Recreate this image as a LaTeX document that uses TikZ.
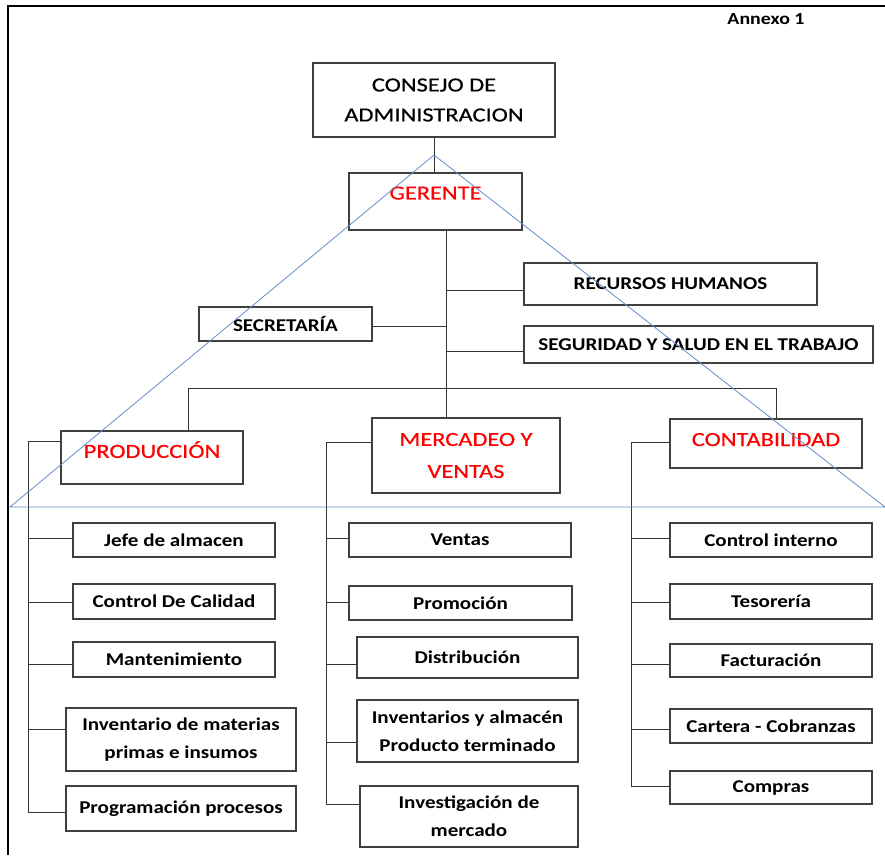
\documentclass[tikz,border=0pt]{standalone}
\usepackage{fontspec}
\setmainfont{Carlito}
\newfontfamily\headfont[FakeStretch=1.22,FakeBold=0.5]{Carlito}
\newfontfamily\boxfont[FakeStretch=1.17]{Carlito}
\usetikzlibrary{calc}
\definecolor{triBlue}{RGB}{100,140,200}
\definecolor{headRed}{RGB}{255,0,0}

\begin{document}
\begin{tikzpicture}[x=1pt, y=-1pt,
    box/.style={draw=black!75, line width=1.1pt, inner sep=2pt, align=center},
    head/.style={box, font=\headfont\fontsize{20}{30}\selectfont},
    area/.style={head, text=headRed},
    staff/.style={box, font=\boxfont\bfseries\fontsize{18}{20}\selectfont},
    unit/.style={box, font=\boxfont\bfseries\fontsize{18}{28}\selectfont},
    link/.style={draw=black!80, line width=0.9pt},
    tri/.style={draw=triBlue, line width=0.8pt}
  ]
  \useasboundingbox (0,0) rectangle (885,855);
  % page frame
  \draw[line width=2.5pt] (885,6) -- (8,6) -- (8,855);
  \node[font=\boxfont\bfseries\fontsize{17}{19}\selectfont] (annexo) at (766,19) {Annexo 1};

  % direction
  \node[head, minimum width=242, minimum height=74] (consejo) at (434,100) {CONSEJO DE\\ADMINISTRACION};
  \node[area, minimum width=173, minimum height=57, text depth=17] (gerente) at (435.5,201.5) {GERENTE};
  \node[staff, minimum width=293, minimum height=42] (rrhh) at (670.5,284) {RECURSOS HUMANOS};
  \node[staff, minimum width=173, minimum height=34] (secre) at (285.5,324) {SECRETARÍA};
  \node[staff, minimum width=349, minimum height=37] (sst) at (698.5,344.5) {SEGURIDAD Y SALUD EN EL TRABAJO};

  % areas
  \node[area, minimum width=182, minimum height=53, text depth=16] (prod) at (152,457.5) {PRODUCCIÓN};
  \node[area, minimum width=188, minimum height=75] (merc) at (466,455.5) {MERCADEO Y\\[2pt]VENTAS};
  \node[area, minimum width=192, minimum height=49, text depth=8] (conta) at (766,443.5) {CONTABILIDAD};

  % produccion
  \node[unit, minimum width=202, minimum height=34] (jefe) at (174,540) {Jefe de almacen};
  \node[unit, minimum width=202, minimum height=35] (calidad) at (174,601.5) {Control De Calidad};
  \node[unit, minimum width=202, minimum height=35] (mant) at (174,659.5) {Mantenimiento};
  \node[unit, minimum width=230, minimum height=63] (invmat) at (181,739.5) {Inventario de materias\\primas e insumos};
  \node[unit, minimum width=230, minimum height=45] (prog) at (181,808.5) {Programación procesos};

  % mercadeo y ventas
  \node[unit, minimum width=222, minimum height=34] (ventas) at (460,540) {Ventas};
  \node[unit, minimum width=223, minimum height=34] (promo) at (460.5,603) {Promoción};
  \node[unit, minimum width=221, minimum height=41] (distrib) at (467.5,657.5) {Distribución};
  \node[unit, minimum width=221, minimum height=62] (invalm) at (467.5,731) {Inventarios y almacén\\Producto terminado};
  \node[unit, minimum width=218, minimum height=61] (invest) at (469,816.5) {Investigación de\\mercado};

  % contabilidad
  \node[unit, minimum width=202, minimum height=34] (ctrl) at (771,540) {Control interno};
  \node[unit, minimum width=202, minimum height=35] (tesor) at (771,601.5) {Tesorería};
  \node[unit, minimum width=202, minimum height=33] (factur) at (771,660.5) {Facturación};
  \node[unit, minimum width=202, minimum height=34] (cartera) at (771,726) {Cartera - Cobranzas};
  \node[unit, minimum width=202, minimum height=33] (compras) at (771,787.5) {Compras};

  % connectors
  \coordinate (tk) at (446,0);
  \coordinate (bus) at (446,388);
  \coordinate (spProd) at (28,0);
  \coordinate (spMerc) at (326,0);
  \coordinate (spCont) at (631,0);

  \draw[link] (consejo.south) -- (consejo.south |- gerente.north);
  \draw[link] (gerente.south -| tk) -- (merc.north -| tk);
  \draw[link] ([yshift=-6]rrhh.west) -- ([yshift=-6]rrhh.west -| tk);
  \draw[link] ([yshift=-2]secre.east) -- ([yshift=-2]secre.east -| tk);
  \draw[link] ([yshift=-6.5]sst.west) -- ([yshift=-6.5]sst.west -| tk);
  \draw[link] ([xshift=36]prod.north) |- (bus) -| ([xshift=10]conta.north);

  \draw[link] ([yshift=16]prod.west) -| ([yshift=-3.5]prog.west -| spProd) -- ([yshift=-3.5]prog.west);
  \foreach \n/\dy in {jefe/2, calidad/-0.5, mant/-4.5, invmat/10.5}
    \draw[link] ([yshift=\dy]\n.west -| spProd) -- ([yshift=\dy]\n.west);

  \draw[link] ([yshift=13.5]merc.west) -| ([yshift=12.5]invest.west -| spMerc) -- ([yshift=12.5]invest.west);
  \foreach \n/\dy in {ventas/2, promo/1, distrib/-6.5, invalm/-11}
    \draw[link] ([yshift=\dy]\n.west -| spMerc) -- ([yshift=\dy]\n.west);

  \draw[link] ([yshift=1.5]conta.west) -| ([yshift=1.5]compras.west -| spCont) -- ([yshift=1.5]compras.west);
  \foreach \n/\dy in {ctrl/2, tesor/-0.5, factur/-3.5, cartera/-3}
    \draw[link] ([yshift=\dy]\n.west -| spCont) -- ([yshift=\dy]\n.west);

  % blue triangle over the chart
  \draw[tri] (434,155) -- (10,507) -- (885,507) -- cycle;
\end{tikzpicture}
\end{document}
